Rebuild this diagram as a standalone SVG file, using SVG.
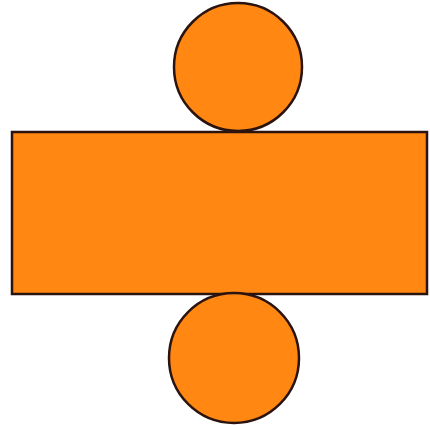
<svg xmlns="http://www.w3.org/2000/svg" width="430" height="425" viewBox="0 0 430 425">
<style>
.s{fill:#ff8712;stroke:#2b1410;stroke-width:2.5}
</style>
<rect width="430" height="425" fill="#ffffff"/>
<g id="top"><circle class="s" cx="238" cy="67" r="64"/></g>
<g id="side"><rect class="s" x="12" y="132" width="415" height="162"/></g>
<g id="bottom"><circle class="s" cx="234" cy="358" r="65"/></g>
<g id="connectors"></g>
</svg>
